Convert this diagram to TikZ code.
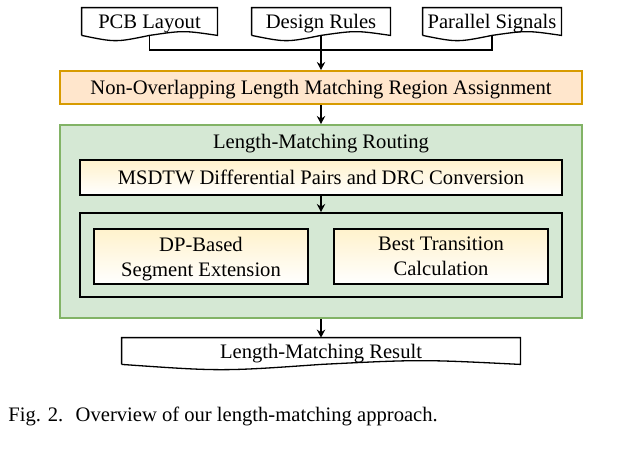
\documentclass[tikz,border=0pt]{standalone}
\usepackage{fontspec}
\setmainfont{Liberation Serif}
\usetikzlibrary{arrows.meta,positioning,calc}

\definecolor{orangefill}{HTML}{FFE6CC}
\definecolor{orangeline}{HTML}{D79B00}
\definecolor{greenfill}{HTML}{D5E8D4}
\definecolor{greenline}{HTML}{82B366}
\definecolor{yellowtop}{HTML}{FFF2CC}

% document shape with a wavy bottom edge
\newcommand{\docwave}[1]{%
  \draw[docline] (#1.south west) -- (#1.north west) -- (#1.north east) -- (#1.south east)
    .. controls ($(#1.south east)!0.5!(#1.south)+(0,-5)$) .. (#1.south)
    .. controls ($(#1.south west)!0.5!(#1.south)+(0,7)$) .. (#1.south west);}

\begin{document}
\begin{tikzpicture}[
  x=0.5pt, y=-0.5pt,
  font=\fontsize{10.3}{12.4}\selectfont,
  >={Stealth[length=4pt,width=4.2pt]},
  doc/.style={align=center, inner sep=0pt, text depth=0pt, minimum width=69pt, minimum height=13.5pt},
  docline/.style={line width=0.65pt},
  box/.style={draw, align=center, inner sep=0pt, text depth=0pt},
  region/.style={box, draw=orangeline, fill=orangefill, line width=1pt, minimum width=261pt, minimum height=16.5pt},
  route/.style={box, draw=greenline, fill=greenfill, line width=1pt, minimum width=261pt, minimum height=96.5pt},
  stepbox/.style={box, line width=0.7pt, top color=yellowtop, bottom color=white},
  frame/.style={box, line width=1pt, minimum width=241pt, minimum height=42pt},
  line/.style={line width=0.7pt},
  arrow/.style={->, line width=0.7pt}
]
  \fill[white] (0,0) rectangle (635,456);

  % inputs
  \node[doc, minimum width=67.5pt] (pcb) at (149.5,21.5) {PCB Layout};
  \node[doc] (rules) at (321,21.5) {Design Rules};
  \node[doc] (par) at (492,21.5) {Parallel Signals};
  \docwave{pcb}
  \docwave{rules}
  \docwave{par}

  \node[region] (region) at (321,87.5) {Non-Overlapping Length Matching Region Assignment};

  % routing block
  \node[route] (route) at (321,221.5) {};
  \node[text depth=0pt] (title) at (321,141.5) {Length-Matching Routing};
  \node[stepbox, minimum width=241pt, minimum height=17.5pt] (msdtw) at (321,177.5) {MSDTW Differential Pairs and DRC Conversion};
  \node[frame] (inner) at (321,255) {};
  \node[stepbox, minimum width=107pt, minimum height=27.5pt] (dp) at (201,256.5) {DP-Based\\Segment Extension};
  \node[stepbox, minimum width=107pt, minimum height=27.5pt] (best) at (441,256.5) {Best Transition\\Calculation};

  % output
  \node[doc, minimum width=199pt, minimum height=13pt] (result) at (321,351) {Length-Matching Result};
  \docwave{result}

  \node[anchor=base west, inner sep=0pt] (cap) at (8,421) {Fig. 2.\hspace{0.6em}Overview of our length-matching approach.};

  \coordinate (join) at (rules.south |- 0,50);
  \draw[line] (pcb.south) |- (join);
  \draw[line] (par.south) |- (join);
  \draw[arrow] (rules.south) -- (region.north);
  \draw[arrow] (region.south) -- (route.north);
  \draw[arrow] (msdtw.south) -- (inner.north);
  \draw[arrow] (route.south) -- (result.north);
\end{tikzpicture}
\end{document}
